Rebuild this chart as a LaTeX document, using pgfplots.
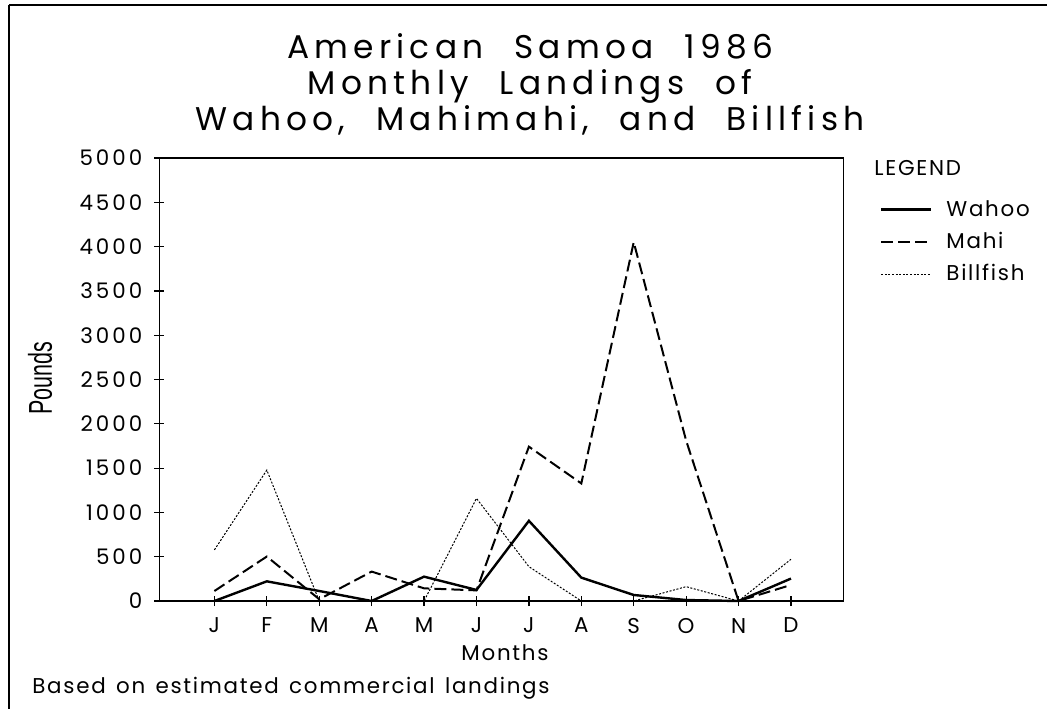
\documentclass[border=0pt]{standalone}
\usepackage{fontspec}
\setmainfont{Poppins}[LetterSpace=8, WordSpace=1.4]
\newfontfamily\titlefont{Poppins}[LetterSpace=16, WordSpace=2.2]
\newfontfamily\tickfont{Poppins}[LetterSpace=14]
\newfontfamily\narrowfont{Liberation Sans}
\usepackage{pgfplots}
\pgfplotsset{compat=1.18}
\begin{document}
\begin{tikzpicture}
\begin{axis}[
    at={(0pt,0pt)}, anchor=origin,
    scale only axis,
    width=342pt, height=221.5pt,
    xmin=-0.05, xmax=13,
    ymin=0, ymax=5000,
    xtick={1,...,12},
    xticklabels={J,F,M,A,M,J,J,A,S,O,N,D},
    ytick={0,500,...,5000},
    tick pos=left,
    tick align=center,
    major tick length=5pt,
    every tick/.style={black, line width=0.6pt},
    axis line style={line width=0.7pt},
    scaled y ticks=false,
    /pgf/number format/assume math mode=true,
    /pgf/number format/1000 sep={},
    tick label style={font=\fontsize{10.7}{11}\selectfont},
    yticklabel style={font=\tickfont\fontsize{10.7}{11}\selectfont, xshift=-2.5pt},
    xticklabel style={yshift=-2.5pt},
    clip=false,
    legend style={at={(1.053,1.005)}, anchor=north west, draw=none, fill=none,
        inner sep=0pt, font=\fontsize{10.7}{11}\selectfont, row sep=2.5pt,
        /tikz/every odd column/.append style={column sep=5pt}},
    legend cell align=left,
    legend image code/.code={\draw[#1] (0pt,0pt) -- (25pt,0pt);},
]
\addlegendimage{empty legend}
\addlegendentry{\hspace{-36pt}\raisebox{4.5pt}{LEGEND}}

\addplot[black, line width=1.2pt] coordinates {
(1,0)(2,222)(3,113)(4,0)(5,275)(6,125)(7,905)(8,264)(9,68)(10,11)(11,0)(12,253)};
\addlegendentry{Wahoo}

\addplot[black, line width=1pt, dash pattern=on 6pt off 2.5pt] coordinates {
(1,113)(2,502)(3,20)(4,332)(5,143)(6,120)(7,1742)(8,1327)(9,4050)(10,1810)(11,0)(12,181)};
\addlegendentry{Mahi}

\addplot[black, line width=0.5pt, dash pattern=on 1pt off 0.8pt,
    legend image code/.code={\draw[black, line width=0.5pt] (0pt,0pt) -- (25pt,0pt);}] coordinates {
(1,577)(2,1478)(3,0)(4,0)(5,0)(6,1158)(7,388)(8,0)(9,0)(10,162)(11,0)(12,471)};
\addlegendentry{Billfish}
\end{axis}

% title, labels and note
\node[align=center, font=\titlefont\fontsize{16.4}{18}\selectfont] at (184pt,258.5pt)
    {American Samoa 1986\\Monthly Landings of\\Wahoo, Mahimahi, and Billfish};
\node[font=\fontsize{10.7}{11}\selectfont] at (171.5pt,-26pt) {Months};
\node[rotate=90, font=\narrowfont\fontsize{16.5}{17}\selectfont] at (-61pt,111.5pt)
    {\scalebox{0.65}[1]{Pounds}};
\node[anchor=west, inner sep=0pt, font=\fontsize{10.7}{11}\selectfont] at (-65pt,-43.5pt)
    {Based on estimated commercial landings};

% page frame
\draw[line width=0.6pt] (-76.5pt,298pt) -- (442.5pt,298pt);
\draw[line width=0.6pt] (-76.5pt,298pt) -- (-76.5pt,-54pt);

\pgfresetboundingbox
\useasboundingbox (-81pt,-54pt) rectangle (442.5pt,300.5pt);
\end{tikzpicture}
\end{document}
